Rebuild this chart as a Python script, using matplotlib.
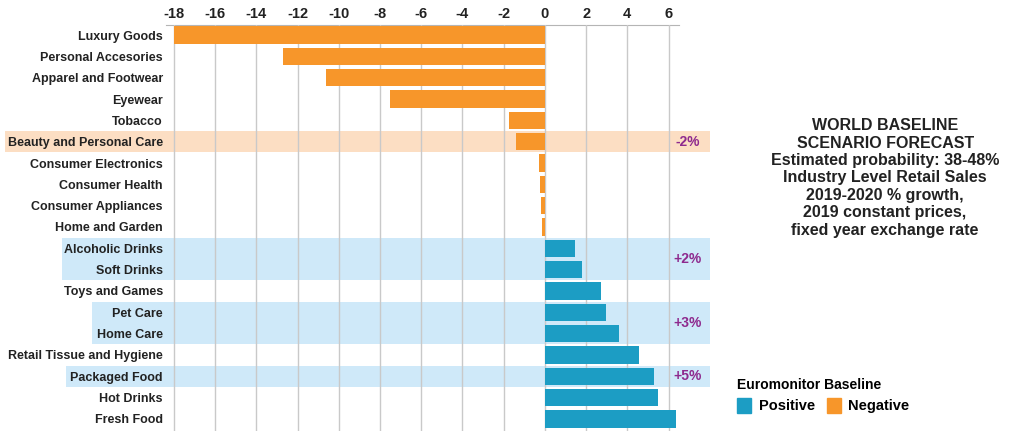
import matplotlib
matplotlib.use("Agg")
import matplotlib.pyplot as plt
from matplotlib.patches import Patch

# data (2019-2020 % growth)
categories = ["Luxury Goods", "Personal Accesories", "Apparel and Footwear", "Eyewear",
              "Tobacco", "Beauty and Personal Care", "Consumer Electronics", "Consumer Health",
              "Consumer Appliances", "Home and Garden", "Alcoholic Drinks", "Soft Drinks",
              "Toys and Games", "Pet Care", "Home Care", "Retail Tissue and Hygiene",
              "Packaged Food", "Hot Drinks", "Fresh Food"]
growth = [-18.0, -12.7, -10.6, -7.5, -1.75, -1.4, -0.3, -0.25, -0.2, -0.15,
          1.47, 1.8, 2.7, 2.96, 3.6, 4.57, 5.3, 5.48, 6.35]
xticks = list(range(-18, 7, 2))

# highlighted groups: (first row, last row, label, left edge in axes fraction)
band_rows = [(5, 5), (10, 11), (13, 14), (16, 16)]
band_labels = ["-2%", "+2%", "+3%", "+5%"]
band_left = [-0.313, -0.202, -0.144, -0.195]

orange = "#f7962a"
blue = "#1c9dc4"
font = ["Liberation Sans", "DejaVu Sans"]

fig = plt.figure(figsize=(10.34, 4.33), dpi=100)
ax = fig.add_axes([0.1603, 0.0053, 0.4962, 0.936])

# background bands
for (r0, r1), lab, xl in zip(band_rows, band_labels, band_left):
    col = "#fcdec3" if lab.startswith("-") else "#cfe9f9"
    ax.axhspan(r0 - 0.5, r1 + 0.5, xmin=xl, xmax=1.061, color=col, clip_on=False, zorder=0, lw=0)
    ax.text(1.017, (r0 + r1) / 2, lab, transform=ax.get_yaxis_transform(), ha="center",
            va="center", color="#8e2a8e", fontsize=10, fontweight="bold", family=font)

colors = [blue if v > 0 else orange for v in growth]
ypos = list(range(len(categories)))
ax.barh(ypos, growth, height=0.8, color=colors, zorder=3)

ax.set_xlim(-18.4, 6.5)
ax.set_ylim(18.55, -0.45)
ax.set_xticks(xticks)
ax.set_xticklabels([str(t) for t in xticks], fontweight="bold", fontsize=10.5, family=font)
ax.xaxis.tick_top()
ax.tick_params(axis="x", length=0, pad=3, colors="#222222")
ax.set_yticks(ypos)
ax.set_yticklabels(categories, fontweight="bold", fontsize=9, family=font, color="#222222")
ax.tick_params(axis="y", length=0, pad=2)
ax.grid(axis="x", color="#c9c9c9", lw=1, zorder=1)
ax.set_axisbelow(False)
for s in ["bottom", "left", "right"]:
    ax.spines[s].set_visible(False)
ax.spines["top"].set_color("#b5b5b5")
ax.patch.set_alpha(0)

title_lines = ["WORLD BASELINE", "SCENARIO FORECAST", "Estimated probability: 38-48%",
               "Industry Level Retail Sales", "2019-2020 % growth,",
               "2019 constant prices,", "fixed year exchange rate"]
fig.text(0.856, 0.589, "\n".join(title_lines), ha="center", va="center", fontsize=11.5,
         fontweight="bold", color="#222222", linespacing=1.2, family=font)

handles = [Patch(color=blue, label="Positive"), Patch(color=orange, label="Negative")]
leg = fig.legend(handles=handles, ncol=2, loc="upper left", bbox_to_anchor=(0.707, 0.14),
                 frameon=False, title="Euromonitor Baseline", handlelength=1.0, handleheight=1.2,
                 handletextpad=0.5, columnspacing=0.8, borderaxespad=0, labelspacing=0.2,
                 prop={"weight": "bold", "size": 10.5, "family": font})
leg.get_title().set_fontweight("bold")
leg.get_title().set_fontsize(10)
leg.get_title().set_family(font)
leg._legend_box.align = "left"
leg._legend_box.sep = 4

fig.savefig("out.png", dpi=100)
